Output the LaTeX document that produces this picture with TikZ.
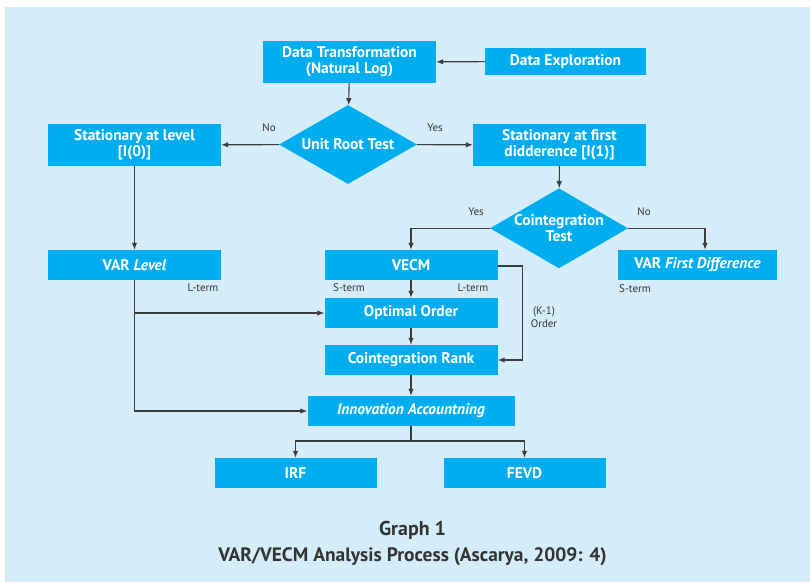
\documentclass[tikz,border=0pt]{standalone}
\usepackage{fontspec}
\setmainfont{PT Sans}
\usetikzlibrary{arrows.meta}
\usetikzlibrary{shapes.geometric}
\definecolor{boxblue}{HTML}{00AEEF}
\definecolor{paleblue}{HTML}{D5EDF9}
\definecolor{linegray}{HTML}{3C3C3C}
\definecolor{textgray}{HTML}{333333}

\begin{document}
\begin{tikzpicture}[x=1bp, y=-1bp,
    box/.style={fill=boxblue, text=white, align=center, inner sep=0pt,
        font=\fontsize{15.5}{16}\selectfont\bfseries,
        minimum width=173bp, minimum height=30bp},
    test/.style={diamond, fill=boxblue, text=white, align=center, inner sep=-8bp,
        font=\fontsize{15.5}{16}\selectfont\bfseries, aspect=1.75,
        minimum width=138bp, minimum height=79bp},
    arr/.style={draw=linegray, line width=1.1bp, -{Latex[length=7bp,width=5.5bp]}},
    lbl/.style={text=textgray, inner sep=0pt, font=\fontsize{11}{13}\selectfont}]

    \useasboundingbox (0,0) rectangle (810,582);
    \fill[paleblue] (5,7) rectangle (810,582);

    \node[box, minimum height=42bp] (dt) at (349.5,62) {Data Transformation\\(Natural Log)};
    \node[box, minimum width=161bp, minimum height=27bp] (de) at (565.5,61.5) {Data Exploration};
    \node[test] (urt) at (348,144.5) {Unit Root Test};
    \node[box, minimum height=42bp] (sl) at (134.5,145) {Stationary at level\\{[I(0)]}};
    \node[box, minimum height=42bp] (sf) at (559.5,145) {Stationary at first\\didderence [I(1)]};
    \node[test, minimum height=80bp] (ct) at (559,228.3) {Cointegration\\Test};
    \node[box] (varl) at (134.5,265) {VAR \textit{Level}};
    \node[box] (vecm) at (411,265) {VECM};
    \node[box, minimum width=159bp] (varfd) at (697.5,265) {VAR \textit{First Difference}};
    \node[box] (oo) at (411,313) {Optimal Order};
    \node[box] (cr) at (411,360) {Cointegration Rank};
    \node[box, minimum width=207bp] (ia) at (411,411) {\textit{Innovation Accountning}};
    \node[box, minimum width=162bp] (irf) at (295.5,473) {IRF};
    \node[box, minimum width=162bp] (fevd) at (524.5,473) {FEVD};

    \draw[arr] (de) -- (dt);
    \draw[arr] (dt) -- (urt);
    \draw[arr] (urt) -- (sl);
    \draw[arr] (urt) -- (sf);
    \draw[arr] (sf) -- (ct);
    \draw[arr] (ct.west) -| (vecm.north);
    \draw[arr] (ct.east) -| ([xshift=7.5bp]varfd.north);
    \draw[arr] (sl) -- (varl);
    \draw[arr] (vecm) -- (oo);
    \draw[arr] (oo) -- (cr);
    \draw[arr] (cr) -- (ia);
    \draw[arr] ([yshift=-1bp]vecm.east) -- ++(25,0) |- (cr.east);
    \draw[arr] (varl.south) |- (ia.west);
    \draw[arr] (varl.south |- oo.west) -- (oo.west);
    \coordinate (split) at (ia.south |- 0,441);
    \draw[arr] (ia.south) -- (split) -| (irf.north);
    \draw[arr] (split) -| (fevd.north);

    \node[lbl] (no1) at (269,128) {No};
    \node[lbl] (yes1) at (435,128) {Yes};
    \node[lbl] (yes2) at (476,212) {Yes};
    \node[lbl] (no2) at (644,212) {No};
    \node[lbl] (lt1) at (203,288) {L-term};
    \node[lbl] (st1) at (349,288) {S-term};
    \node[lbl] (lt2) at (473,288) {L-term};
    \node[lbl] (st2) at (635,289) {S-term};
    \node[lbl, align=center] (ko) at (544,317) {(K-1)\\Order};

    \node[text=textgray, font=\fontsize{20}{22}\selectfont\bfseries] (cap1) at (412.5,530) {Graph 1};
    \node[text=textgray, font=\fontsize{19.5}{22}\selectfont\bfseries] (cap2) at (412.5,556.5) {VAR/VECM Analysis Process (Ascarya, 2009: 4)};
\end{tikzpicture}
\end{document}
